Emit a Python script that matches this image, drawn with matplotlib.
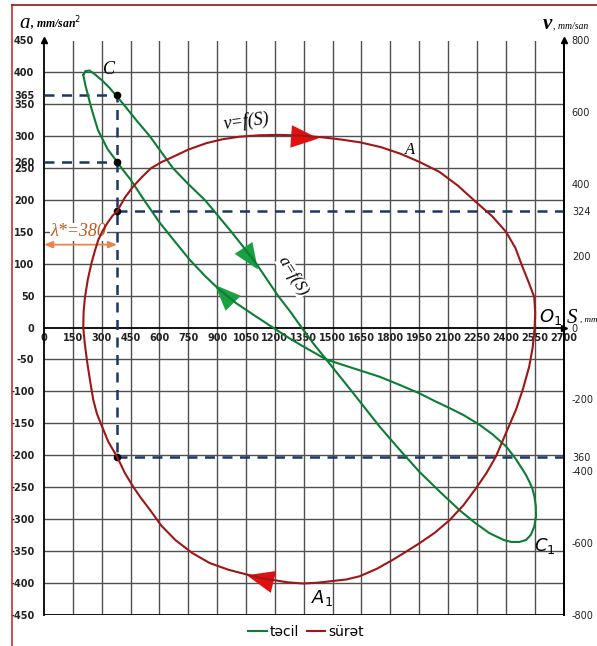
import numpy as np
import matplotlib
matplotlib.use('Agg')
import matplotlib.pyplot as plt
from matplotlib.lines import Line2D

# tecil a=f(S), mm/san^2
S_acc = [204, 215, 235, 256, 300, 340, 377, 413, 480, 550, 610, 670, 750, 836, 900,
         974, 1040, 1104, 1160, 1216, 1280, 1339, 1400, 1467, 1600, 1744, 1850, 1951,
         2060, 2159, 2240, 2314, 2390, 2430, 2470, 2505, 2530, 2548, 2557, 2556, 2549,
         2538, 2523, 2505, 2480, 2450, 2401, 2330, 2262, 2180, 2100, 2030, 1951, 1850,
         1744, 1600, 1467, 1350, 1277, 1190, 1104, 1000, 913, 840, 758, 680, 600, 520,
         450, 403, 377, 330, 280, 245, 215, 204]
a_acc = [396, 402, 403, 399, 388, 376, 363, 350, 325, 300, 275, 250, 225, 200, 177,
         150, 125, 100, 75, 50, 25, 0, -25, -50, -100, -155, -192, -226,
         -258, -286, -306, -322, -333, -336, -336, -333, -325, -312, -296, -280, -265,
         -252, -242, -231, -219, -205, -186, -167, -152, -137, -125, -115, -103, -90,
         -77, -63, -50, -30, -17, 0, 17, 38, 59, 80, 106, 135, 165, 200,
         232, 250, 261, 280, 310, 345, 380, 396]

# surat v=f(S), mm/san
S_vel = [380, 420, 463, 510, 556, 610, 671, 750, 844, 930, 1017, 1120, 1225, 1340,
         1450, 1545, 1645, 1750, 1850, 1950, 2055, 2150, 2245, 2330, 2401, 2450, 2487,
         2520, 2548, 2553, 2550, 2540, 2522, 2490, 2453, 2400, 2349, 2300, 2245, 2180,
         2107, 2030, 1951, 1880, 1813, 1730, 1640, 1570, 1502, 1420, 1346, 1270, 1199,
         1130, 1069, 960, 861, 770, 683, 610, 551, 500, 463, 420, 380, 334, 299, 275,
         256, 240, 225, 212, 204, 206, 213, 228, 247, 265, 282, 305, 334, 357, 380]
v_vel = [324, 362, 393, 420, 444, 461, 476, 496, 514, 525, 532, 536, 537, 535,
         530, 524, 516, 503, 485, 462, 434, 396, 350, 310, 267, 222, 169,
         125, 85, 40, 0, -55, -108, -170, -229, -295, -359, -405, -448, -495,
         -537, -572, -601, -625, -647, -672, -693, -702, -706, -711, -713, -710, -704,
         -698, -690, -675, -656, -628, -592, -552, -508, -472, -443, -405, -360, -318, -272, -240,
         -201, -150, -98, -45, 0, 45, 85, 135, 180, 215, 244, 270, 295, 312, 324]

lam = 380
a_C, a_mid = 365, 260
v_top, v_bot = 324, -360

x_ticks = list(range(0, 2701, 150))
a_ticks = [450, 400, 365, 350, 300, 260, 250, 200, 150, 100, 50, 0, -50, -100, -150,
           -200, -250, -300, -350, -400, -450]
v_ticks = [800, 600, 400, 324, 200, 0, -200, -360, -400, -600, -800]
v_labels = ['800', '600', '400', '324', '200', '0', '-200', '360', '-400', '-600', '-800']

green, red = '#0b7d35', '#9e1616'
navy = '#1b3768'
serif = 'Liberation Serif'

fig = plt.figure(figsize=(5.97, 6.46), dpi=100)
ax = fig.add_axes([44/597, 31.3/646, 519.5/597, 574.2/646])
ax.set_xlim(0, 2700)
ax.set_ylim(-450, 450)

# setka
ax.vlines(x_ticks[1:-1], -450, 450, color='#505050', lw=1.0, zorder=1)
ax.hlines([y for y in range(-400, 401, 50) if y != 0], 0, 2700, color='#505050', lw=1.0, zorder=1)
ax.axhline(-450, color='black', lw=1.3, zorder=2)
ax.plot([2700], [0], marker='>', color='black', ms=4, clip_on=False, zorder=3)
ax.plot([0], [450], marker='^', color='black', ms=4, clip_on=False, zorder=3)
ax.plot([2700], [450], marker='^', color='black', ms=4, clip_on=False, zorder=3)

ax.spines['top'].set_visible(False)
ax.spines['bottom'].set_position(('data', 0))
for s in ['left', 'right', 'bottom']:
    ax.spines[s].set_linewidth(1.3)

ax.set_xticks(x_ticks)
ax.set_xticklabels([str(t) for t in x_ticks])
ax.set_yticks(a_ticks)
ax.set_yticklabels([str(t) for t in a_ticks])
ax.tick_params(axis='x', length=0, pad=4, labelsize=7, labelcolor='#222222')
ax.tick_params(axis='y', length=0, pad=7, labelsize=7, labelcolor='#222222')
for lb in ax.get_xticklabels() + ax.get_yticklabels():
    lb.set_fontweight('bold')

# shtrixli xetler
dash = (0, (4, 3))
ax.plot([0, lam, lam], [a_C, a_C, v_bot*9/16], ls=dash, color=navy, lw=1.8, zorder=3)
ax.plot([0, lam], [a_mid, a_mid], ls=dash, color=navy, lw=1.8, zorder=3)
ax.plot([lam, 2700], [v_top*9/16, v_top*9/16], ls=dash, color=navy, lw=1.8, zorder=3)
ax.plot([lam, 2700], [v_bot*9/16, v_bot*9/16], ls=dash, color=navy, lw=1.8, zorder=3)
ax.plot([lam]*4, [a_C, a_mid, v_top*9/16, v_bot*9/16], 'o', color='black', ms=4.5, zorder=6)

ax.plot(S_acc, a_acc, color=green, lw=1.5, zorder=4, solid_joinstyle='round')

ax2 = ax.twinx()
ax2.set_ylim(-800, 800)
ax2.set_yticks(v_ticks)
ax2.set_yticklabels(v_labels)
ax2.tick_params(axis='y', length=0, pad=6, labelsize=7, labelcolor='#222222')
for s in ['top', 'bottom', 'left']:
    ax2.spines[s].set_visible(False)
ax2.spines['right'].set_linewidth(1.3)
ax2.plot(S_vel, v_vel, color=red, lw=1.5, zorder=4, solid_joinstyle='round')

# istiqamet oxlari
arr = dict(arrowstyle='-|>,head_length=1.1,head_width=0.45', lw=0, shrinkA=0, shrinkB=0)
ax2.annotate('', xy=(1427, 527), xytext=(1300, 532), arrowprops=dict(color='#e01010', mutation_scale=18, **arr))
ax2.annotate('', xy=(1054, -690), xytext=(1180, -707), arrowprops=dict(color='#e01010', mutation_scale=18, **arr))
ax.annotate('', xy=(1112, 91), xytext=(1030, 128), arrowprops=dict(color='#1aa040', mutation_scale=17, **arr))
ax.annotate('', xy=(888, 67), xytext=(990, 36), arrowprops=dict(color='#1aa040', mutation_scale=17, **arr))

# lambda
ax.annotate('', xy=(0, 130), xytext=(lam, 130),
            arrowprops=dict(arrowstyle='<|-|>,head_length=0.5,head_width=0.2', color='#e8864a', lw=1.3,
                            shrinkA=0, shrinkB=0), zorder=5)
ax.text(178, 150, 'λ*=380', color='#c0581e', fontsize=13, family=serif, style='italic',
        ha='center', va='center', bbox=dict(fc='white', ec='none', pad=0.3), zorder=5)

# yazilar
ax.text(340, 404, 'C', fontsize=13, family=serif, style='italic', ha='center', va='center', zorder=5)
ax.text(1055, 323, 'v=f(S)', fontsize=13, family=serif, style='italic', ha='center', va='center',
        rotation=7, zorder=5)
ax.text(1900, 279, 'A', fontsize=12, family=serif, style='italic', ha='center', va='center', zorder=5)
ax.text(1295, 80, 'a=f(S)', fontsize=12, family=serif, style='italic', ha='center', va='center',
        rotation=-58, bbox=dict(fc='white', ec='none', pad=0.3), zorder=5)
ax.text(2635, 17, '$O_1$', fontsize=13, family=serif, ha='center', va='center', zorder=5)
ax.text(2600, -342, '$C_1$', fontsize=13, family=serif, ha='center', va='center', zorder=5)
ax.text(1445, -424, '$A_1$', fontsize=13, family=serif, ha='center', va='center', zorder=5)
ax.text(2718, 14, 'S', fontsize=15, family=serif, style='italic', ha='left', va='center', clip_on=False)
ax.text(2785, 12, ', mm', fontsize=6.5, family=serif, style='italic', ha='left', va='center', clip_on=False)

fig.text(25/597, 1-23/646, 'a', fontsize=15, family=serif, style='italic', ha='center', va='center')
fig.text(30/597, 1-24/646, ', mm/san$^2$', fontsize=8.5, family=serif, style='italic', weight='bold',
         ha='left', va='center')
fig.text(547/597, 1-24/646, 'v', fontsize=15, family=serif, style='italic', weight='bold', ha='center', va='center')
fig.text(553/597, 1-26/646, ', mm/san', fontsize=7, family=serif, style='italic', ha='left', va='center')

# qirmizi cercive
fig.add_artist(Line2D([11.5/597, 11.5/597], [0, 1-5/646], color='#c83030', lw=1.2))
fig.add_artist(Line2D([11.5/597, 1], [1-5/646, 1-5/646], color='#8b1a1a', lw=1.2))

handles = [Line2D([], [], color=green, lw=1.5), Line2D([], [], color=red, lw=1.5)]
fig.legend(handles, ['təcil', 'sürət'], loc='center', bbox_to_anchor=(306/597, 14/646), ncol=2,
           frameon=False, handlelength=1.3, handletextpad=0.2, columnspacing=0.6, fontsize=10)

fig.savefig('out.png', dpi=100)
